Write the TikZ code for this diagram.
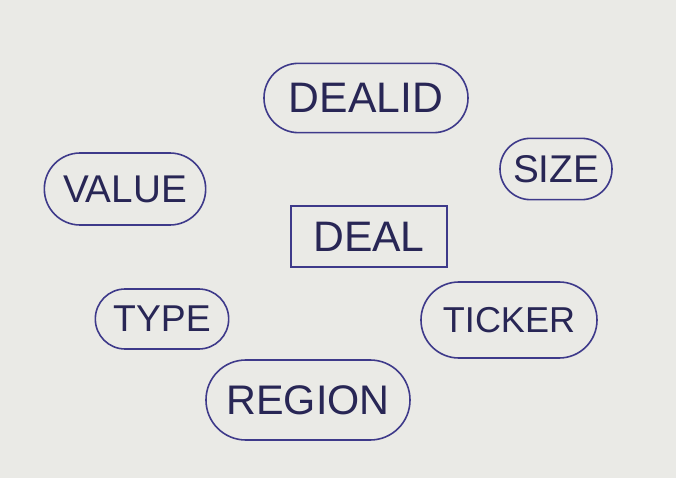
\documentclass[tikz,border=0pt]{standalone}
\usepackage{fontspec}
\setmainfont{Liberation Sans}
\definecolor{paper}{RGB}{234,234,230}
\definecolor{ink}{RGB}{62,58,138}
\definecolor{inktext}{RGB}{40,38,85}

\tikzset{every picture/.style={line width=0.75pt}}
\tikzset{
  attrib/.style={draw=ink, line width=1.2pt, inner sep=0pt, text=inktext},
  entity/.style={draw=ink, line width=1.3pt, inner sep=0pt, text=inktext}
}

\begin{document}
\begin{tikzpicture}[x=0.75pt,y=0.75pt,yscale=-1,xscale=1]
	%set diagram left start at 0, and has height of 478
	\fill [paper] (0,0) rectangle (676,478);
	\useasboundingbox (0,0) rectangle (676,478);

	% Entity Node
	\draw (369,236.5) node [entity, minimum width=117pt, minimum height=46pt, font=\fontsize{32}{32}\selectfont] (deal) {DEAL};

	% Attribute Node
	\draw (366,98) node [attrib, rounded corners=25.9pt, minimum width=153pt, minimum height=52pt, font=\fontsize{32}{32}\selectfont] (dealid) {DEALID};
	% Attribute Node
	\draw (556,169) node [attrib, rounded corners=22.9pt, minimum width=84pt, minimum height=46pt, font=\fontsize{29}{29}\selectfont] (size) {SIZE};
	% Attribute Node
	\draw (125,189) node [attrib, rounded corners=26.9pt, minimum width=121pt, minimum height=54pt, font=\fontsize{29}{29}\selectfont] (value) {VALUE};
	% Attribute Node
	\draw (162,319) node [attrib, rounded corners=22.4pt, minimum width=100pt, minimum height=45pt, font=\fontsize{28}{28}\selectfont] (type) {TYPE};
	% Attribute Node
	\draw (509,320) node [attrib, rounded corners=28.4pt, minimum width=132pt, minimum height=57pt, font=\fontsize{27}{27}\selectfont] (ticker) {TICKER};
	% Attribute Node
	\draw (308,400) node [attrib, rounded corners=29.9pt, minimum width=153pt, minimum height=60pt, font=\fontsize{31}{31}\selectfont] (region) {REGION};

\end{tikzpicture}
\end{document}
